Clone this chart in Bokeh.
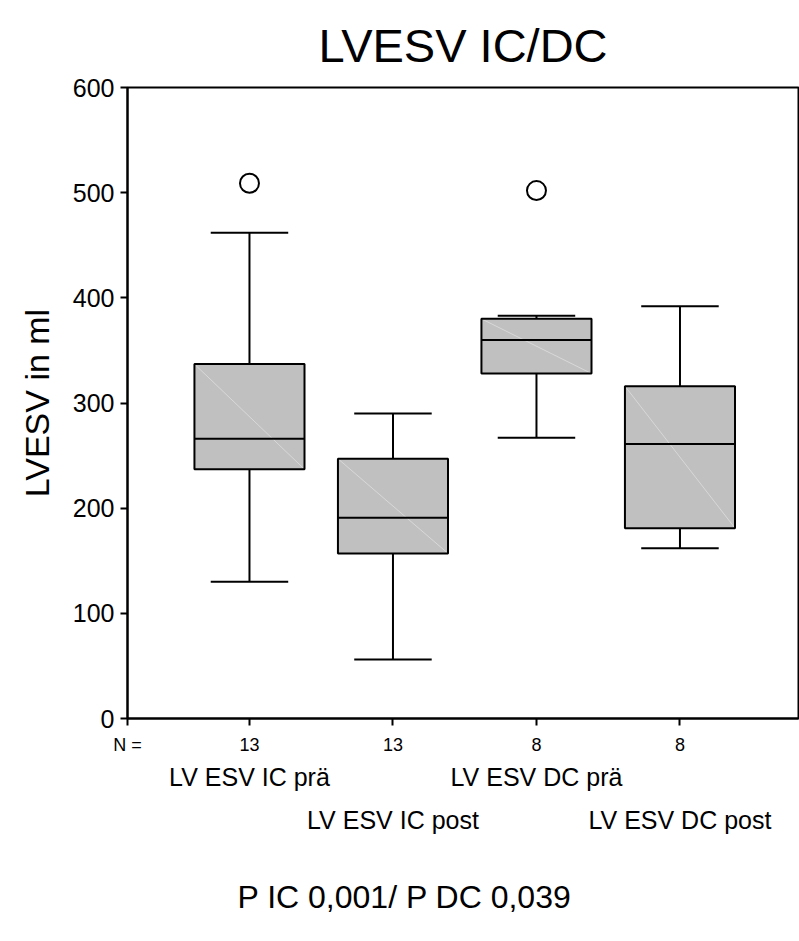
from bokeh.plotting import figure
from bokeh.models import Range1d, FixedTicker, ColumnDataSource, LinearAxis, Title
from bokeh.embed import file_html
from bokeh.resources import INLINE

# ---- data ----
categories = ["LV ESV IC prä", "LV ESV IC post", "LV ESV DC prä", "LV ESV DC post"]
n_counts = [13, 13, 8, 8]
lower_whisker = [130, 56, 267, 162]
q1 = [237, 157, 328, 181]
median = [266, 191, 360, 261]
q3 = [337, 247, 380, 316]
upper_whisker = [462, 290, 383, 392]
outlier_pos = [1, 3]
outlier_val = [509, 502]
y_ticks = [0, 100, 200, 300, 400, 500, 600]
title_text = "LVESV IC/DC"
y_label_text = "LVESV in ml"
footer_text = "P IC 0,001/ P DC 0,039"
n_label = "N ="

FONT = "Liberation Sans"
pos = [i + 1 for i in range(len(categories))]

x0, x1 = 0.15, 4.826
p = figure(width=799, height=935, output_backend="svg", toolbar_location=None,
           x_range=Range1d(x0, x1), y_range=Range1d(0, 600),
           min_border_left=127, min_border_right=1, min_border_top=87,
           min_border_bottom=217, background_fill_color="white",
           border_fill_color="white")
p.xgrid.visible = False
p.ygrid.visible = False
p.outline_line_color = "black"
p.outline_line_width = 2

# title
p.title.text = title_text
p.title.align = "center"
p.title.text_font = FONT
p.title.text_font_size = "47px"
p.title.text_font_style = "normal"
p.title.text_color = "black"
p.title.standoff = 32

# y axis
p.yaxis.ticker = FixedTicker(ticks=y_ticks)
p.yaxis.minor_tick_line_color = None
p.yaxis.major_tick_out = 7
p.yaxis.major_tick_in = 0
p.yaxis.axis_line_width = 2
p.yaxis.major_tick_line_width = 2
p.yaxis.major_label_text_font = FONT
p.yaxis.major_label_text_font_size = "25px"
p.yaxis.major_label_text_color = "black"
p.yaxis.major_label_standoff = 6
p.yaxis.axis_label = y_label_text
p.yaxis.axis_label_text_font = FONT
p.yaxis.axis_label_text_font_size = "34px"
p.yaxis.axis_label_text_font_style = "normal"
p.yaxis.axis_label_text_color = "black"
p.yaxis.axis_label_standoff = 14

# x axis: N counts (plus "N =" at the left edge)
p.xaxis.ticker = FixedTicker(ticks=[x0] + pos)
overrides = {x0: n_label}
overrides.update({i: str(n) for i, n in zip(pos, n_counts)})
p.xaxis.major_label_overrides = overrides
p.xaxis.minor_tick_line_color = None
p.xaxis.major_tick_out = 7
p.xaxis.major_tick_in = 0
p.xaxis.axis_line_width = 2
p.xaxis.major_tick_line_width = 2
p.xaxis.major_label_text_font = FONT
p.xaxis.major_label_text_font_size = "18px"
p.xaxis.major_label_text_color = "black"
p.xaxis.major_label_standoff = 9

# category name rows (staggered)
for k, std in ((0, 5), (1, 12)):
    ticks = [x for i, x in enumerate(pos) if i % 2 == k]
    ax = LinearAxis(ticker=FixedTicker(ticks=ticks),
                    major_label_overrides={x: categories[x - 1] for x in ticks},
                    axis_line_color=None, major_tick_line_color=None,
                    minor_tick_line_color=None, major_tick_out=0, major_tick_in=0,
                    major_label_text_font=FONT, major_label_text_font_size="25px",
                    major_label_text_color="black", major_label_standoff=std)
    p.add_layout(ax, "below")

# spacer + footer
p.add_layout(Title(text=" ", text_font_size="1px", standoff=18), "below")
p.add_layout(Title(text=footer_text, align="left", offset=110, text_font=FONT,
                   text_font_size="32px", text_font_style="normal", text_color="black",
                   standoff=38), "below")

box_w = 0.767
cap_w = 0.54
src = ColumnDataSource(dict(
    x=pos, lw=lower_whisker, q1=q1, med=median, q3=q3, uw=upper_whisker,
    bl=[x - box_w / 2 for x in pos], br=[x + box_w / 2 for x in pos],
    cl=[x - cap_w / 2 for x in pos], cr=[x + cap_w / 2 for x in pos]))

# whiskers
p.segment(x0="x", y0="q3", x1="x", y1="uw", source=src, line_color="black", line_width=2)
p.segment(x0="x", y0="lw", x1="x", y1="q1", source=src, line_color="black", line_width=2)
# caps
p.segment(x0="cl", y0="uw", x1="cr", y1="uw", source=src, line_color="black", line_width=2)
p.segment(x0="cl", y0="lw", x1="cr", y1="lw", source=src, line_color="black", line_width=2)
# boxes
p.vbar(x="x", bottom="q1", top="q3", width=box_w, source=src,
       fill_color="#C0C0C0", line_color=None)
# faint diagonal inside boxes (SPSS artefact)
p.segment(x0="bl", y0="q3", x1="br", y1="q1", source=src, line_color="#D8D8D8", line_width=1)
p.vbar(x="x", bottom="q1", top="q3", width=box_w, source=src,
       fill_color=None, line_color="black", line_width=2)
# medians
p.segment(x0="bl", y0="med", x1="br", y1="med", source=src, line_color="black", line_width=2)
# outliers
p.scatter(x=outlier_pos, y=outlier_val, marker="circle", size=19,
          fill_color="white", line_color="black", line_width=2)

open("out.html", "w").write(file_html(p, INLINE))
